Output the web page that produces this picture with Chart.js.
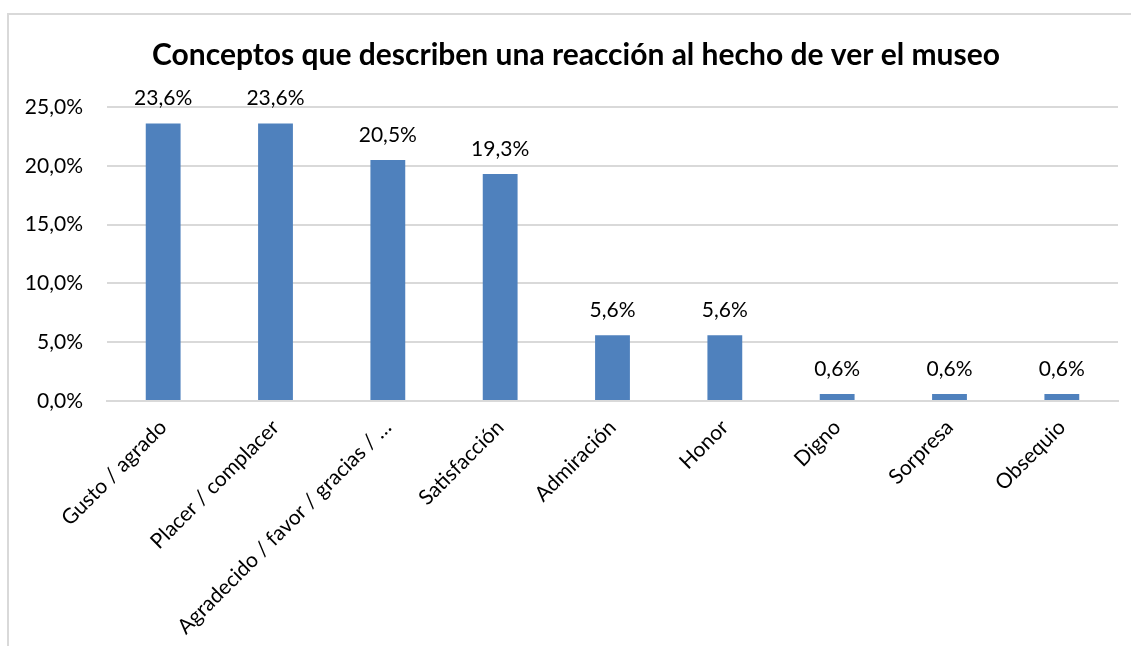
<!DOCTYPE html>
<html>
<head>
<meta charset="utf-8">
<script src="https://cdn.jsdelivr.net/npm/chart.js@4"></script>
<style>
  body { margin: 0; background: #fff; overflow: hidden; }
  #frame { position: absolute; left: 7px; top: 13px; width: 1200px; height: 700px; border: 2px solid #d9d9d9; }
  #wrap { position: absolute; left: 0; top: 0; width: 1131px; height: 646px; }
</style>
</head>
<body>
<div id="frame"></div>
<div id="wrap"><canvas id="barchart"></canvas></div>
<script>
const categories = ['Gusto / agrado', 'Placer / complacer', 'Agradecido / favor / gracias / …', 'Satisfacción', 'Admiración', 'Honor', 'Digno', 'Sorpresa', 'Obsequio'];
const values = [23.6, 23.6, 20.5, 19.3, 5.6, 5.6, 0.6, 0.6, 0.6];
const yTicks = [0, 5, 10, 15, 20, 25];
const chartTitle = 'Conceptos que describen una reacción al hecho de ver el museo';

const FONT = 'Lato, "Open Sans", sans-serif';
const pct = v => v.toFixed(1).replace('.', ',') + '%';

// draws the value above each bar, and the title (centred on the whole frame, not the canvas)
const barLabels = {
  id: 'barLabels',
  afterDatasetsDraw(chart) {
    const c = chart.ctx;
    c.save();
    c.fillStyle = '#000';
    c.textAlign = 'center';
    c.textBaseline = 'alphabetic';
    c.font = '21px ' + FONT;
    chart.getDatasetMeta(0).data.forEach((bar, i) => {
      c.fillText(pct(values[i]), bar.x, bar.y - 18);
    });
    c.font = 'bold 30px ' + FONT;
    c.fillText(chartTitle, 576, 65);
    c.restore();
  }
};

const ctx = document.getElementById('barchart');

new Chart(ctx, {
  type: 'bar',
  data: {
    labels: categories,
    datasets: [{
      data: values,
      backgroundColor: '#4f81bd',
      categoryPercentage: 1,
      barPercentage: 0.31
    }]
  },
  plugins: [barLabels],
  options: {
    responsive: true,
    maintainAspectRatio: false,
    animation: false,
    layout: { padding: { top: 107, right: 13, bottom: 0, left: 0 } },
    plugins: {
      legend: { display: false },
      tooltip: { enabled: false },
      title: { display: false }
    },
    scales: {
      x: {
        grid: { display: false },
        border: { color: '#d9d9d9', width: 2 },
        ticks: {
          color: '#000',
          font: { family: FONT, size: 21 },
          maxRotation: 45,
          minRotation: 45,
          autoSkip: false,
          padding: 6
        },
        afterFit: s => { s.height = 245; }
      },
      y: {
        min: 0,
        max: 25,
        afterBuildTicks: s => { s.ticks = yTicks.map(v => ({ value: v })); },
        grid: { color: '#d9d9d9', lineWidth: 2, drawTicks: false },
        border: { display: false },
        ticks: {
          color: '#000',
          font: { family: FONT, size: 21 },
          padding: 24,
          callback: v => pct(v)
        },
        afterFit: s => { s.width = 107; }
      }
    }
  }
});
</script>
</body>
</html>
